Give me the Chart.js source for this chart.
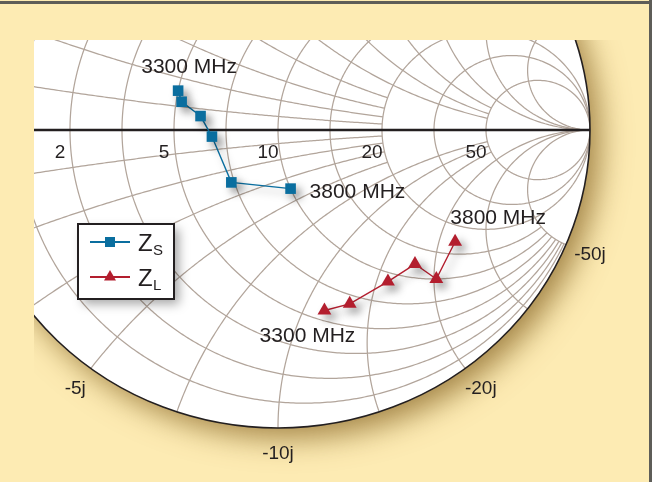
<!DOCTYPE html>
<html>
<head>
<meta charset="utf-8">
<script src="https://cdn.jsdelivr.net/npm/chart.js@4.4.1/dist/chart.umd.min.js"></script>
<style>
  html, body { margin: 0; padding: 0; background: #fdebb3; }
  #smith { display: block; }
</style>
</head>
<body>
<canvas id="smith" width="652" height="482"></canvas>
<script>
/*global Chart*/

//----------------------------------------------------------------
/* data: impedances in ohms, 3300 -> 3800 MHz, chart normalised to Z0 */
//----------------------------------------------------------------
var Z0 = 10;
var zsR = [5.0, 5.2, 6.0, 6.5, 7.0, 10.0];
var zsX = [1.5, 1.1, 0.6, -0.3, -2.6, -4.1];
var zlR = [5.6, 6.5, 9.1, 11.7, 10.0, 16.4];
var zlX = [-11.1, -12.5, -15.0, -17.4, -20.3, -22.9];
var freqLabels = ["3300 MHz", "3800 MHz"];

// grid values (normalised) and where each arc / circle stops
var gridSteps = [1/11, 0.2, 1/3, 0.5, 5/7, 1, 1.4, 2, 3, 5];
var arcStopR = [2, 2, 2, 2, 5, 5, 5, Infinity, Infinity, Infinity];
var circleStopX = [5, 5, 5, 5, 5, 5, 5, Infinity, Infinity, Infinity];

// printed tick values (ohms)
var rTicks = [2, 5, 10, 20, 50];
var xTicks = [-5, -10, -20, -50];

var blue = '#0a6e9f';
var red = '#b31e2e';
var ink = '#231f20';
var font = '"Liberation Sans", Arial, Helvetica, sans-serif';

function gamma(r, x) {
    var d = (r + 1) * (r + 1) + x * x;
    return { x: (r * r + x * x - 1) / d, y: 2 * x / d };
}
function toGamma(R, X) {
    return R.map(function (r, i) { return gamma(r / Z0, X[i] / Z0); });
}

// constant reactance arc, r from 0 to stop
function arcPts(x, stop) {
    var pts = [], n = 200;
    var end = isFinite(stop) ? Math.atan(stop) : Math.PI / 2 - 0.0004;
    for (var i = 0; i <= n; i++) pts.push(gamma(Math.tan(end * i / n), x));
    return pts;
}
// constant resistance circle, x from -stop to +stop
function circlePts(r, stop) {
    var pts = [], n = 300;
    var end = isFinite(stop) ? Math.atan(stop) : Math.PI / 2 - 0.0004;
    for (var i = -n; i <= n; i++) pts.push(gamma(r, Math.tan(end * i / n)));
    return pts;
}

//----------------------------------------------------------------
/* background, shaded disc, grid */
//----------------------------------------------------------------
var smithBack = {
    id: 'smithBack',
    beforeDatasetsDraw: function (chart) {
        var ctx = chart.ctx, sx = chart.scales.x, sy = chart.scales.y;
        var W = chart.width, H = chart.height;
        var cx = sx.getPixelForValue(0), cy = sy.getPixelForValue(0);
        var rx = sx.getPixelForValue(1) - cx, ry = cy - sy.getPixelForValue(1);
        var disc = function () {
            ctx.beginPath();
            ctx.ellipse(cx, cy, rx, ry, 0, 0, Math.PI * 2);
        };
        var stroke = function (pts) {
            ctx.beginPath();
            pts.forEach(function (p, i) {
                var a = sx.getPixelForValue(p.x), b = sy.getPixelForValue(p.y);
                if (i === 0) ctx.moveTo(a, b); else ctx.lineTo(a, b);
            });
            ctx.stroke();
        };

        ctx.save();
        ctx.fillStyle = '#fdebb3';
        ctx.fillRect(0, 0, W, H);
        ctx.fillStyle = '#5e5d58';
        ctx.fillRect(0, 1, W, 3);
        ctx.fillRect(W - 3, 0, 3, H);

        ctx.beginPath();
        ctx.rect(34, 40, W - 37, H - 40);
        ctx.clip();

        ctx.save();
        ctx.shadowColor = 'rgba(125, 90, 25, 0.7)';
        ctx.shadowBlur = 30;
        ctx.shadowOffsetX = 10;
        ctx.shadowOffsetY = 10;
        disc();
        ctx.fillStyle = '#ffffff';
        ctx.fill();
        ctx.restore();

        ctx.save();
        disc();
        ctx.clip();
        ctx.strokeStyle = '#b2a59b';
        ctx.lineWidth = 1.25;
        gridSteps.forEach(function (g, i) {
            stroke(arcPts(g, arcStopR[i]));
            stroke(arcPts(-g, arcStopR[i]));
            stroke(circlePts(g, circleStopX[i]));
        });
        ctx.restore();

        ctx.strokeStyle = ink;
        ctx.lineWidth = 1.6;
        disc();
        ctx.stroke();
        ctx.lineWidth = 2.6;
        ctx.beginPath();
        ctx.moveTo(34, cy);
        ctx.lineTo(cx + rx, cy);
        ctx.stroke();
        ctx.restore();
    }
};

// soft drop shadow under the plotted traces
var traceShadow = {
    id: 'traceShadow',
    beforeDatasetDraw: function (chart) {
        var ctx = chart.ctx;
        ctx.save();
        ctx.shadowColor = 'rgba(0, 0, 0, 0.4)';
        ctx.shadowBlur = 8;
        ctx.shadowOffsetX = 5;
        ctx.shadowOffsetY = 5;
    },
    afterDatasetDraw: function (chart) {
        chart.ctx.restore();
    }
};

//----------------------------------------------------------------
/* tick labels, frequency notes, legend box */
//----------------------------------------------------------------
var smithText = {
    id: 'smithText',
    afterDraw: function (chart) {
        var ctx = chart.ctx, sx = chart.scales.x, sy = chart.scales.y;
        var pix = function (p) { return [sx.getPixelForValue(p.x), sy.getPixelForValue(p.y)]; };
        var cy = sy.getPixelForValue(0);
        ctx.save();
        ctx.fillStyle = ink;
        ctx.textBaseline = 'middle';
        ctx.textAlign = 'center';

        ctx.font = '19px ' + font;
        rTicks.forEach(function (R) {
            var p = pix(gamma(R / Z0, 0));
            ctx.fillText(String(R), p[0] - 10, cy + 23);
        });
        xTicks.forEach(function (X) {
            var g = gamma(0, X / Z0), p = pix(g);
            ctx.fillText(X + 'j', p[0] + g.x * 26, p[1] - g.y * 26);
        });

        ctx.font = '21px ' + font;
        var zs = toGamma(zsR, zsX), zl = toGamma(zlR, zlX);
        var a = pix(zs[0]), b = pix(zs[zs.length - 1]);
        var c = pix(zl[0]), d = pix(zl[zl.length - 1]);
        ctx.fillText(freqLabels[0], a[0] + 11, a[1] - 23);
        ctx.fillText(freqLabels[1], d[0] + 43, d[1] - 24);
        ctx.fillText(freqLabels[0], c[0] - 17, c[1] + 26);
        ctx.textAlign = 'left';
        ctx.fillText(freqLabels[1], b[0] + 19, b[1] + 4);

        // legend
        ctx.save();
        ctx.shadowColor = 'rgba(0, 0, 0, 0.35)';
        ctx.shadowBlur = 10;
        ctx.shadowOffsetX = 5;
        ctx.shadowOffsetY = 5;
        ctx.fillStyle = '#ffffff';
        ctx.fillRect(78, 224, 96, 75);
        ctx.restore();
        ctx.strokeStyle = ink;
        ctx.lineWidth = 2;
        ctx.strokeRect(78, 224, 96, 75);

        var rows = [[242, blue, 'S', 'rect'], [277, red, 'L', 'tri']];
        rows.forEach(function (row) {
            var y = row[0];
            ctx.strokeStyle = row[1];
            ctx.fillStyle = row[1];
            ctx.lineWidth = 2;
            ctx.beginPath();
            ctx.moveTo(90, y);
            ctx.lineTo(130, y);
            ctx.stroke();
            ctx.beginPath();
            if (row[3] === 'rect') {
                ctx.rect(105, y - 5, 10, 10);
            } else {
                ctx.moveTo(110, y - 7);
                ctx.lineTo(116, y + 3.5);
                ctx.lineTo(104, y + 3.5);
                ctx.closePath();
            }
            ctx.fill();
            ctx.fillStyle = ink;
            ctx.textBaseline = 'alphabetic';
            ctx.font = '24px ' + font;
            ctx.fillText('Z', 138, y + 9);
            ctx.font = '15px ' + font;
            ctx.fillText(row[2], 153, y + 13);
        });
        ctx.restore();
    }
};

//----------------------------------------------------------------
/* chart */
//----------------------------------------------------------------
var smithData = {
    datasets: [
        {
            label: 'ZS',
            data: toGamma(zsR, zsX),
            showLine: true,
            borderColor: blue,
            backgroundColor: blue,
            borderWidth: 1.4,
            pointStyle: 'rect',
            pointRadius: 7.5,
            pointBorderWidth: 0
        }, {
            label: 'ZL',
            data: toGamma(zlR, zlX),
            showLine: true,
            borderColor: red,
            backgroundColor: red,
            borderWidth: 1.4,
            pointStyle: 'triangle',
            pointRadius: 8,
            pointBorderWidth: 0
        }
    ]
};
var smithOptions = {
    responsive: false,
    animation: false,
    devicePixelRatio: 1,
    layout: { padding: 0, autoPadding: false },
    plugins: { legend: { display: false }, tooltip: { enabled: false } },
    scales: {
        x: { type: 'linear', min: -278 / 312, max: (652 - 278) / 312, display: false },
        y: { type: 'linear', min: -(482 - 130) / 298, max: 130 / 298, display: false }
    }
};
var ctx = document.getElementById('smith').getContext('2d');
new Chart(ctx, { type: 'scatter', data: smithData, options: smithOptions, plugins: [smithBack, traceShadow, smithText] });
</script>
</body>
</html>
